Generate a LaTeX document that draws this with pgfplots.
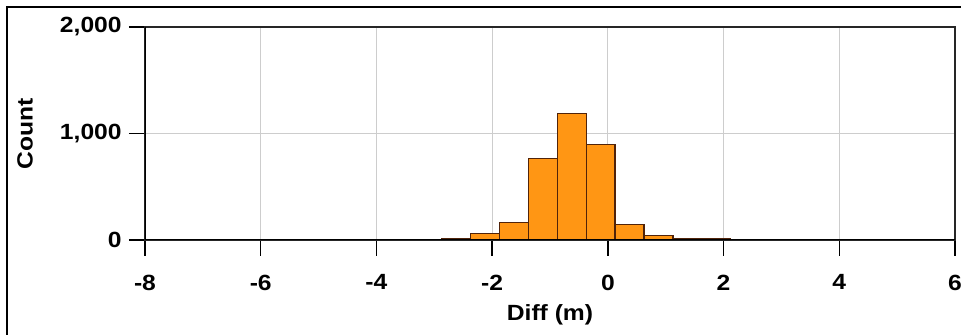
\documentclass[border=0pt]{standalone}
\usepackage{fontspec}
\setmainfont[FakeStretch=1.12]{Liberation Sans}
\usepackage{pgfplots}
\pgfplotsset{compat=1.18}
\definecolor{barfill}{RGB}{255,150,20}
\definecolor{baredge}{RGB}{80,35,10}
\definecolor{gridgray}{RGB}{205,205,205}
\pgfplotstableread{
x y
-7.875 3
-7.375 3
-6.875 3
-6.375 4
-5.875 4
-5.375 4
-4.875 5
-4.375 5
-3.875 6
-3.375 8
-2.875 15
-2.375 63
-1.875 162
-1.375 767
-0.875 1190
-0.375 898
0.125 147
0.625 40
1.125 15
1.625 10
2.125 8
2.625 6
3.125 5
3.625 5
4.125 4
4.625 4
}\histdata
\begin{document}
\begin{tikzpicture}
\begin{axis}[
  at={(0pt,0pt)}, anchor=south west,
  scale only axis, width=607.5pt, height=159.75pt,
  xmin=-8, xmax=6, ymin=0, ymax=2000,
  xtick={-8,-6,...,6}, ytick={0,1000,2000},
  tick pos=left,
  grid=major,
  grid style={line width=0.7pt, draw=gridgray},
  tick align=outside,
  major tick length=12pt,
  tick style={line width=1.1pt, black},
  axis line style={line width=1.3pt, black!85},
  /pgf/number format/assume math mode=true,
  /pgf/number format/1000 sep={,},
  ticklabel style={font=\fontsize{16.5}{19}\selectfont\bfseries},
  xticklabel style={yshift=-10.5pt},
  yticklabel style={xshift=-2pt},
  xlabel={Diff (m)},
  ylabel={Count},
  label style={font=\fontsize{16.5}{19}\selectfont\bfseries},
  xlabel style={at={(axis description cs:0.5,-0.35)}, anchor=center},
  ylabel style={at={(axis description cs:-0.148,0.5)}, anchor=center},
]
\addplot[ybar interval, fill=barfill, draw=baredge, line width=0.9pt] table[x=x,y=y] {\histdata};
\draw[black, line width=1.8pt] (rel axis cs:0,0) -- (rel axis cs:0,1);
\draw[black, line width=1.8pt] (rel axis cs:0,0) -- (rel axis cs:1,0);
\end{axis}
\draw[overlay, line width=1.6pt] (-103.5pt,-90pt) -- (-103.5pt,174.75pt) -- (630pt,174.75pt);
\pgfresetboundingbox
\path (-108.75pt,-71.25pt) rectangle (612pt,180pt);
\end{tikzpicture}
\end{document}
